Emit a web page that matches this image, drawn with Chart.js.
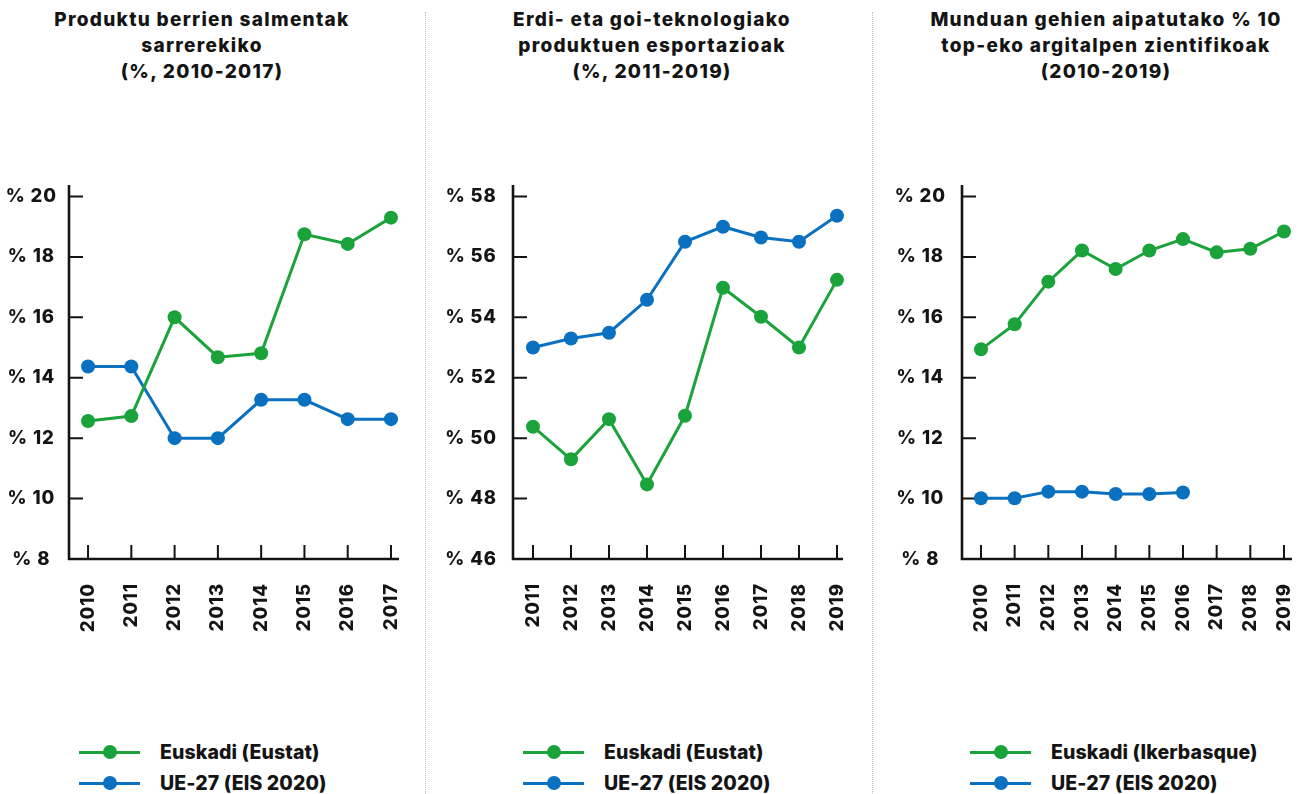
<!DOCTYPE html>
<html><head><meta charset="utf-8">
<script src="https://cdn.jsdelivr.net/npm/chart.js@4.4.1/dist/chart.umd.min.js"></script>
<style>
body{margin:0;width:1305px;height:794px;background:#fff;position:relative;overflow:hidden;font-family:Inter,'Open Sans',sans-serif;font-weight:800;color:#141414;}
.title{position:absolute;top:7px;font-size:19px;line-height:26px;letter-spacing:1.3px;text-align:center;white-space:nowrap;transform:translateX(-50%);}
.sep{position:absolute;top:12px;bottom:0;width:0;border-left:1px dotted #bdbdbd;}
canvas{position:absolute;top:150px;}
.row{position:absolute;height:24px;font-size:19.5px;line-height:24px;letter-spacing:0.1px;white-space:nowrap;}
.mk{position:absolute;left:0;top:10.5px;width:61px;height:3px;}
.dot{position:absolute;left:23.5px;top:-5.5px;width:14px;height:14px;border-radius:50%;}
.tx{position:absolute;left:81px;top:0;}
</style></head>
<body>
<div class="sep" style="left:425px"></div>
<div class="sep" style="left:872px"></div>
<div class="title" style="left:202px">Produktu berrien salmentak<br>sarrerekiko<br>(%, 2010-2017)</div>
<div class="title" style="left:652px">Erdi- eta goi-teknologiako<br>produktuen esportazioak<br>(%, 2011-2019)</div>
<div class="title" style="left:1106px">Munduan gehien aipatutako % 10<br>top-eko argitalpen zientifikoak<br>(2010-2019)</div>
<canvas id="c1" width="425" height="560" style="left:0px"></canvas>
<canvas id="c2" width="446" height="560" style="left:426px"></canvas>
<canvas id="c3" width="433" height="560" style="left:872px"></canvas>
<div id="legends"></div>
<script>
const GREEN = '#1aa33b';
const BLUE = '#0a70c0';

// Chart 1
const years1 = [2010, 2011, 2012, 2013, 2014, 2015, 2016, 2017];
const euskadi1 = [12.57, 12.73, 16.0, 14.68, 14.81, 18.75, 18.43, 19.30];
const ue1 = [14.37, 14.37, 12.0, 12.0, 13.27, 13.27, 12.63, 12.63];
const yTicks1 = [8, 10, 12, 14, 16, 18, 20];

// Chart 2
const years2 = [2011, 2012, 2013, 2014, 2015, 2016, 2017, 2018, 2019];
const euskadi2 = [50.38, 49.30, 50.63, 48.47, 50.74, 54.98, 54.02, 53.0, 55.24];
const ue2 = [53.0, 53.3, 53.49, 54.58, 56.5, 57.0, 56.64, 56.5, 57.36];
const yTicks2 = [46, 48, 50, 52, 54, 56, 58];

// Chart 3
const years3 = [2010, 2011, 2012, 2013, 2014, 2015, 2016, 2017, 2018, 2019];
const euskadi3 = [14.94, 15.77, 17.18, 18.21, 17.60, 18.21, 18.59, 18.15, 18.27, 18.84];
const ue3 = [10.01, 10.01, 10.23, 10.23, 10.15, 10.15, 10.20, null, null, null];
const yTicks3 = [8, 10, 12, 14, 16, 18, 20];

const legendLabels1 = ['Euskadi (Eustat)', 'UE-27 (EIS 2020)'];
const legendLabels2 = ['Euskadi (Eustat)', 'UE-27 (EIS 2020)'];
const legendLabels3 = ['Euskadi (Ikerbasque)', 'UE-27 (EIS 2020)'];

const FONT = {family: "Inter, 'Open Sans', sans-serif", weight: '800', size: 18.5};
const TXT = '#141414';

const spacingPlugin = {
  id: 'spacingPlugin',
  beforeUpdate(chart) { chart.ctx.letterSpacing = '0.9px'; },
  beforeDraw(chart) { chart.ctx.letterSpacing = '0.9px'; }
};

const axesPlugin = {
  id: 'axesPlugin',
  beforeDatasetsDraw(chart) {
    const {ctx, chartArea: a, scales: {x, y}} = chart;
    ctx.save();
    ctx.strokeStyle = '#141414';
    ctx.lineWidth = 2.6;
    ctx.beginPath();
    ctx.moveTo(a.left, a.top);
    ctx.lineTo(a.left, a.bottom);
    ctx.lineTo(a.right, a.bottom);
    ctx.stroke();
    ctx.lineWidth = 2;
    ctx.beginPath();
    y.ticks.forEach((t, i) => {
      if (i === 0) return;
      const py = y.getPixelForValue(t.value);
      ctx.moveTo(a.left, py);
      ctx.lineTo(a.left + 14, py);
    });
    x.ticks.forEach(t => {
      const px = x.getPixelForValue(t.value);
      ctx.moveTo(px, a.bottom);
      ctx.lineTo(px, a.bottom - 14);
    });
    ctx.stroke();
    ctx.restore();
  }
};

function ds(years, vals, color) {
  return {
    data: years.map((yr, i) => ({x: yr, y: vals[i]})).filter(p => p.y !== null),
    borderColor: color, backgroundColor: color,
    borderWidth: 3, pointRadius: 7, pointHoverRadius: 7, pointBorderWidth: 0,
    tension: 0, clip: false
  };
}

function makeChart(id, years, green, blue, yTicks, c) {
  new Chart(document.getElementById(id), {
    type: 'line',
    data: {datasets: [ds(years, green, GREEN), ds(years, blue, BLUE)]},
    options: {
      responsive: false, animation: false,
      layout: {padding: {top: 35, right: c.padRight, left: 0, bottom: 0}},
      plugins: {legend: {display: false}, tooltip: {enabled: false}},
      events: [],
      scales: {
        x: {
          type: 'linear', min: c.xMin, max: c.xMax,
          afterBuildTicks: s => { s.ticks = years.map(v => ({value: v})); },
          afterFit: s => { s.height = 151; s.paddingLeft = 0; s.paddingRight = 0; },
          grid: {display: false, drawTicks: false},
          border: {display: false},
          ticks: {callback: v => String(v), minRotation: 90, maxRotation: 90, autoSkip: false,
                  padding: 24, font: FONT, color: TXT}
        },
        y: {
          type: 'linear', min: c.yMin, max: c.yMax,
          afterBuildTicks: s => { s.ticks = yTicks.map(v => ({value: v})); },
          afterFit: s => { s.width = c.yWidth; s.paddingTop = 0; s.paddingBottom = 0; },
          grid: {display: false, drawTicks: false},
          border: {display: false},
          ticks: {callback: v => '% ' + v, crossAlign: 'center', padding: c.yPad, font: FONT, color: TXT}
        }
      }
    },
    plugins: [spacingPlugin, axesPlugin]
  });
}

makeChart('c1', years1, euskadi1, ue1, yTicks1,
  {padRight: 26, xMin: 2010 - 0.44, xMax: 2017 + 0.185, yMin: 8, yMax: 20.38, yWidth: 69, yPad: 12});
makeChart('c2', years2, euskadi2, ue2, yTicks2,
  {padRight: 29, xMin: 2011 - 0.526, xMax: 2019 + 0.158, yMin: 46, yMax: 58.38, yWidth: 87, yPad: 16});
makeChart('c3', years3, euskadi3, ue3, yTicks3,
  {padRight: 13, xMin: 2010 - 0.564, xMax: 2019 + 0.238, yMin: 8, yMax: 20.38, yWidth: 90, yPad: 16});

function legend(left, labels) {
  const colors = [GREEN, BLUE];
  const tops = [740, 771];
  labels.forEach((lab, i) => {
    const row = document.createElement('div');
    row.className = 'row';
    row.style.left = left + 'px';
    row.style.top = tops[i] + 'px';
    row.innerHTML = '<div class="mk" style="background:' + colors[i] + '"><div class="dot" style="background:' + colors[i] + '"></div></div><div class="tx">' + lab + '</div>';
    document.getElementById('legends').appendChild(row);
  });
}
legend(79, legendLabels1);
legend(523, legendLabels2);
legend(970, legendLabels3);
</script>
</body></html>
